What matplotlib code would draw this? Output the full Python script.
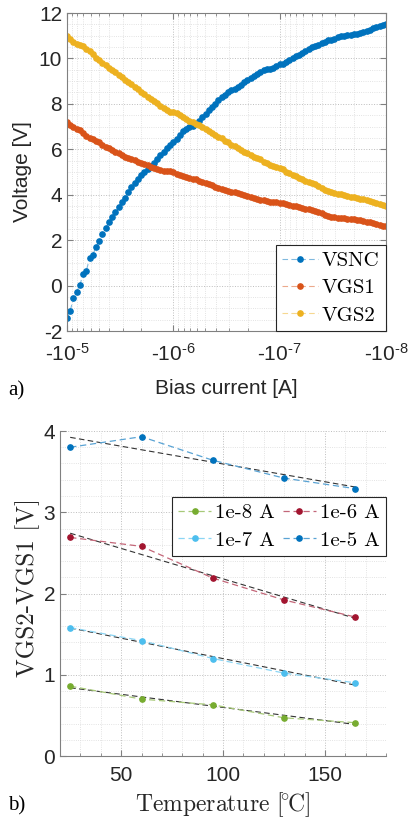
import numpy as np
import matplotlib
matplotlib.use('Agg')
import matplotlib.pyplot as plt
from matplotlib.ticker import MultipleLocator, LogLocator, FixedLocator, NullFormatter

plt.rcParams['font.family'] = ['Liberation Sans', 'DejaVu Sans']
plt.rcParams['mathtext.fontset'] = 'custom'
plt.rcParams['mathtext.rm'] = 'Liberation Sans'
plt.rcParams['mathtext.it'] = 'Liberation Sans:italic'
plt.rcParams['mathtext.bf'] = 'Liberation Sans:bold'
plt.rcParams['axes.unicode_minus'] = False

## Data: a) bias current sweep (100 log-spaced points, -1e-5 .. -1e-8 A)
bias_current = np.logspace(-5, -8, 100)          # magnitude of the sweep [A]
vsnc = [-1.44, -1.11, -0.55, -0.28, 0.02, 0.52, 0.65, 1.20, 1.36, 1.70,
        1.95, 2.25, 2.52, 2.78, 3.00, 3.22, 3.45, 3.70, 3.86, 4.12,
        4.33, 4.52, 4.70, 4.85, 4.98, 5.12, 5.25, 5.40, 5.56, 5.74,
        5.90, 6.04, 6.18, 6.32, 6.47, 6.65, 6.80, 6.90, 6.98, 7.03,
        7.10, 7.24, 7.42, 7.57, 7.72, 7.86, 8.01, 8.15, 8.28, 8.40,
        8.50, 8.59, 8.65, 8.74, 8.84, 8.96, 9.06, 9.15, 9.24, 9.33,
        9.42, 9.50, 9.52, 9.53, 9.60, 9.66, 9.74, 9.77, 9.83, 9.92,
        10.02, 10.11, 10.16, 10.25, 10.34, 10.41, 10.49, 10.53, 10.59, 10.67,
        10.74, 10.80, 10.79, 10.85, 10.93, 10.97, 11.00, 11.01, 11.04, 11.07,
        11.09, 11.12, 11.17, 11.22, 11.26, 11.33, 11.38, 11.44, 11.48, 11.51]
vgs1 = [7.18, 7.08, 6.98, 6.89, 6.83, 6.71, 6.59, 6.49, 6.45, 6.37,
        6.30, 6.20, 6.12, 6.05, 5.98, 5.90, 5.83, 5.76, 5.68, 5.63,
        5.57, 5.51, 5.45, 5.39, 5.35, 5.29, 5.24, 5.18, 5.13, 5.08,
        5.06, 5.06, 5.03, 4.99, 4.93, 4.88, 4.83, 4.79, 4.75, 4.71,
        4.67, 4.62, 4.56, 4.51, 4.47, 4.41, 4.35, 4.30, 4.26, 4.21,
        4.17, 4.13, 4.10, 4.06, 4.03, 3.98, 3.93, 3.89, 3.86, 3.82,
        3.78, 3.75, 3.71, 3.69, 3.66, 3.66, 3.64, 3.62, 3.59, 3.56,
        3.52, 3.49, 3.46, 3.42, 3.38, 3.35, 3.31, 3.28, 3.24, 3.18,
        3.12, 3.07, 3.03, 3.01, 2.99, 2.98, 2.96, 2.95, 2.93, 2.91,
        2.89, 2.88, 2.86, 2.82, 2.79, 2.76, 2.72, 2.68, 2.64, 2.61]
vgs2 = [11.00, 10.84, 10.72, 10.64, 10.58, 10.53, 10.40, 10.32, 10.18, 10.03,
        9.92, 9.81, 9.69, 9.59, 9.51, 9.39, 9.29, 9.18, 9.07, 8.96,
        8.86, 8.75, 8.64, 8.52, 8.42, 8.32, 8.23, 8.13, 8.02, 7.91,
        7.81, 7.73, 7.66, 7.62, 7.58, 7.52, 7.44, 7.35, 7.26, 7.19,
        7.12, 7.05, 6.98, 6.90, 6.81, 6.72, 6.62, 6.55, 6.48, 6.38,
        6.30, 6.21, 6.13, 6.05, 5.99, 5.90, 5.82, 5.73, 5.66, 5.61,
        5.56, 5.46, 5.39, 5.32, 5.25, 5.22, 5.16, 5.12, 5.02, 4.96,
        4.88, 4.82, 4.73, 4.67, 4.61, 4.55, 4.50, 4.45, 4.37, 4.30,
        4.22, 4.16, 4.12, 4.08, 4.05, 4.01, 3.97, 3.93, 3.91, 3.89,
        3.86, 3.82, 3.79, 3.75, 3.71, 3.67, 3.64, 3.60, 3.55, 3.50]
series_a = ['VSNC', 'VGS1', 'VGS2']
xticks_a = [1e-5, 1e-6, 1e-7, 1e-8]
# U+2010 hyphen keeps the short dash of the original labels
xticklabels_a = ['$\u201010^{\u20105}$', '$\u201010^{\u20106}$',
                 '$\u201010^{\u20107}$', '$\u201010^{\u20108}$']

## Data: b) VGS2-VGS1 versus temperature
temps = [25, 60, 95, 130, 165]
d_1e8 = [0.86, 0.70, 0.63, 0.47, 0.41]
d_1e7 = [1.58, 1.42, 1.20, 1.02, 0.90]
d_1e6 = [2.69, 2.58, 2.19, 1.92, 1.71]
d_1e5 = [3.80, 3.93, 3.64, 3.42, 3.29]
series_b = ['1e-8 A', '1e-7 A', '1e-6 A', '1e-5 A']

# matlab colours
c_blue = '#0072BD'
c_orange = '#D95319'
c_yellow = '#EDB120'
c_green = '#77AC30'
c_red = '#A2142F'
c_cyan = '#4DBEEE'

def light(c, f=0.5):
    rgb = np.array(matplotlib.colors.to_rgb(c))
    return tuple(rgb + (1 - rgb) * f)

serif = ['cmr10', 'DejaVu Serif']
spine_c = '#808080'
text_c = '#262626'
dash = (0, (5, 3))

fig = plt.figure(figsize=(4.09, 8.21), dpi=100)
ax1 = fig.add_axes([67/409, 1 - 331/821, 319/409, 318/821])
ax2 = fig.add_axes([60/409, 1 - 756/821, 326/409, 325/821])

## a)
for vals, name, c in zip([vsnc, vgs1, vgs2], series_a, [c_blue, c_orange, c_yellow]):
    ax1.plot(bias_current, vals, color=light(c), lw=0.8, ls=dash,
             marker='o', ms=3.8, mfc=c, mec=c, label=name)

ax1.set_xscale('log')
ax1.set_xlim(1e-5, 1e-8)
ax1.set_ylim(-2, 12)
ax1.xaxis.set_major_locator(FixedLocator(xticks_a))
ax1.set_xticklabels(xticklabels_a)
ax1.xaxis.set_minor_locator(LogLocator(base=10, subs=np.arange(2, 10)))
ax1.xaxis.set_minor_formatter(NullFormatter())
ax1.yaxis.set_major_locator(MultipleLocator(2))
ax1.yaxis.set_minor_locator(MultipleLocator(0.5))
ax1.grid(which='major', ls=':', color='#bdbdbd', lw=0.7)
ax1.grid(which='minor', ls=':', color='#dadada', lw=0.6)
ax1.tick_params(which='both', direction='in', top=True, right=True,
                color=spine_c, labelcolor=text_c, labelsize=15)
ax1.tick_params(which='major', length=4)
ax1.tick_params(which='minor', length=2)
ax1.tick_params(axis='y', which='minor', length=0)
ax1.tick_params(axis='x', which='major', pad=8.5)
for s in ax1.spines.values():
    s.set_color(spine_c)
    s.set_linewidth(0.8)
ax1.set_ylabel('Voltage [V]', fontsize=15, color=text_c)
ax1.yaxis.set_label_coords(-0.141, 0.5)
ax1.yaxis.label.set_va('center')
ax1.set_xlabel('Bias current [A]', fontsize=15, color=text_c)
ax1.xaxis.set_label_coords(0.498, -0.182)
ax1.xaxis.label.set_va('center')
leg1 = ax1.legend(loc='lower right', prop={'family': serif, 'size': 15},
                  borderaxespad=0, fancybox=False, framealpha=1, edgecolor=text_c,
                  handlelength=1.7, handletextpad=0.2, labelspacing=0.42, borderpad=0.3)
leg1.get_frame().set_linewidth(0.8)

## b)
for vals, name, c in zip([d_1e8, d_1e7, d_1e6, d_1e5], series_b, [c_green, c_cyan, c_red, c_blue]):
    ax2.plot(temps, vals, color=light(c, 0.35), lw=0.9, ls=dash,
             marker='o', ms=3.8, mfc=c, mec=c, label=name)
    p = np.polyfit(temps, vals, 1)
    ax2.plot(temps, np.polyval(p, temps), color='#333333', lw=0.8, ls=dash, zorder=1.9)

ax2.set_xlim(20, 180)
ax2.set_ylim(0, 4)
ax2.xaxis.set_major_locator(FixedLocator([50, 100, 150]))
ax2.xaxis.set_minor_locator(MultipleLocator(10))
ax2.yaxis.set_major_locator(MultipleLocator(1))
ax2.yaxis.set_minor_locator(MultipleLocator(0.2))
ax2.grid(which='major', ls=':', color='#bdbdbd', lw=0.7)
ax2.grid(which='minor', ls=':', color='#dadada', lw=0.6)
ax2.tick_params(which='both', direction='in', color=spine_c, labelcolor=text_c, labelsize=15)
ax2.tick_params(which='major', length=4)
ax2.tick_params(which='minor', length=2)
ax2.tick_params(axis='y', which='minor', length=0)
ax2.tick_params(axis='x', which='major', pad=7)
ax2.spines['top'].set_visible(False)
ax2.spines['right'].set_visible(False)
for s in ['left', 'bottom']:
    ax2.spines[s].set_color(spine_c)
    ax2.spines[s].set_linewidth(0.8)
ax2.set_ylabel('VGS2-VGS1 [V]', family=serif, fontsize=18, color=text_c)
ax2.yaxis.set_label_coords(-0.1, 0.517)
ax2.yaxis.label.set_va('center')
# degree sign pulled in with small negative spaces, so "[°C]" stays tight
ax2.set_xlabel('Temperature $[{\\,\\!\\!}^{\\circ}\\,\\!\\!\\mathrm{C}]$', family=serif,
               fontsize=17, color=text_c, math_fontfamily='cm')
ax2.xaxis.set_label_coords(0.498, -0.151)
ax2.xaxis.label.set_va('center')
leg2 = ax2.legend(loc='upper right', bbox_to_anchor=(1.0, 0.797), ncol=2,
                  prop={'family': serif, 'size': 15}, fancybox=False, framealpha=1,
                  edgecolor=text_c, handlelength=1.6, handletextpad=0.2,
                  columnspacing=0.35, labelspacing=0.45, borderpad=0.3, borderaxespad=0)
leg2.get_frame().set_linewidth(0.8)

fig.text(8/409, 1 - 391/821, 'a)', family='Liberation Serif', fontsize=15, va='center', ha='left')
fig.text(8/409, 1 - 806/821, 'b)', family='Liberation Serif', fontsize=15, va='center', ha='left')

fig.savefig('out.png', dpi=100)
